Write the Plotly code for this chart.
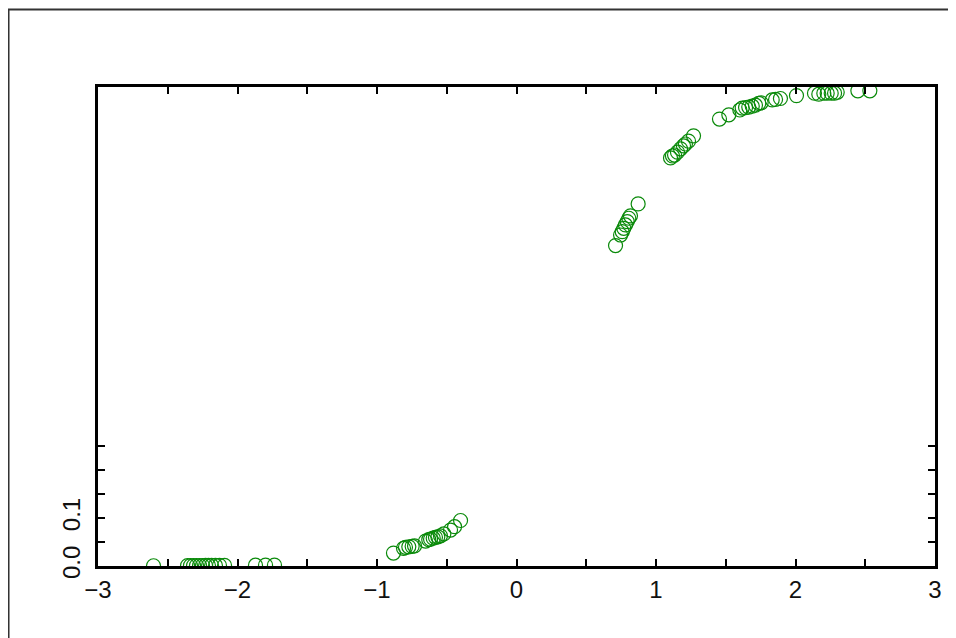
import plotly.graph_objects as go

# Data
x_vals = [
    -2.602, -2.358, -2.337, -2.315, -2.294, -2.272, -2.251, -2.229, -2.208, -2.186,
    -2.158, -2.129, -2.093, -1.871, -1.799, -1.735,
    -0.882, -0.810, -0.796, -0.772, -0.748, -0.731, -0.652, -0.629, -0.616, -0.597,
    -0.581, -0.564, -0.545, -0.521, -0.473, -0.444, -0.401,
    0.710, 0.746, 0.758, 0.769, 0.781, 0.794, 0.805, 0.817, 0.872,
    1.104, 1.118, 1.133, 1.154, 1.176, 1.197, 1.211, 1.233, 1.269,
    1.455, 1.522, 1.601, 1.618, 1.642, 1.665, 1.690, 1.713, 1.737, 1.754,
    1.833, 1.857, 1.892, 2.007, 2.136, 2.167, 2.203, 2.227, 2.256, 2.280,
    2.299, 2.447, 2.533,
]
y_vals = [
    0.0005, 0.0008, 0.0008, 0.0009, 0.0009, 0.0010, 0.0010, 0.0011, 0.0011, 0.0012,
    0.0012, 0.0013, 0.0014, 0.0017, 0.0019, 0.0020,
    0.027, 0.037, 0.039, 0.040, 0.041, 0.042, 0.052, 0.055, 0.056, 0.058,
    0.060, 0.061, 0.063, 0.067, 0.075, 0.082, 0.095,
    0.669, 0.691, 0.698, 0.705, 0.712, 0.719, 0.726, 0.731, 0.756,
    0.852, 0.856, 0.858, 0.864, 0.871, 0.877, 0.881, 0.887, 0.898,
    0.933, 0.942, 0.952, 0.956, 0.957, 0.958, 0.960, 0.962, 0.966, 0.967,
    0.973, 0.974, 0.976, 0.982, 0.987, 0.985, 0.987, 0.987, 0.987, 0.987,
    0.989, 0.992, 0.992,
]

x_tickvals = [-3, -2.5, -2, -1.5, -1, -0.5, 0, 0.5, 1, 1.5, 2, 2.5, 3]
x_ticktext = ["\u22123", "", "\u22122", "", "\u22121", "", "0", "", "1", "", "2", "", "3"]
y_tickvals = [0, 0.05, 0.1, 0.15, 0.2, 0.25]
y_ticktext = ["0.0", "", "0.1", "", "", ""]

fig = go.Figure()
fig.add_trace(go.Scatter(
    x=x_vals, y=y_vals, mode="markers",
    marker=dict(symbol="circle-open", size=14, color="#0a8a0a",
                line=dict(width=1.2, color="#0a8a0a")),
    showlegend=False,
))

font = dict(family="Liberation Sans, Arial, sans-serif", size=24, color="#111")

# page body adds an 8px offset, so the figure is 948x630 placed at (8,8)
fig.update_layout(
    width=948, height=630,
    margin=dict(l=90, r=21, t=79, b=72),
    paper_bgcolor="white", plot_bgcolor="white",
    font=font,
    xaxis=dict(
        range=[-3, 3], tickvals=x_tickvals, ticktext=x_ticktext,
        ticks="inside", ticklen=7, tickwidth=1.5, tickcolor="black",
        showline=True, linewidth=3, linecolor="black", mirror="ticks",
        showgrid=False, zeroline=False, tickfont=font,
        ticklabelstandoff=0,
    ),
    yaxis=dict(
        range=[0, 1], tickvals=y_tickvals, ticktext=y_ticktext,
        ticks="inside", ticklen=7, tickwidth=1.5, tickcolor="black",
        showline=True, linewidth=3, linecolor="black", mirror="ticks",
        showgrid=False, zeroline=False, tickangle=-90, tickfont=font,
        ticklabelstandoff=5,
    ),
    shapes=[dict(
        type="rect", xref="paper", yref="paper",
        x0=-0.1069, x1=1.2, y0=-0.3, y1=1.1618,
        line=dict(color="#333", width=2), layer="below",
    )],
)

fig.write_html("out.html")
